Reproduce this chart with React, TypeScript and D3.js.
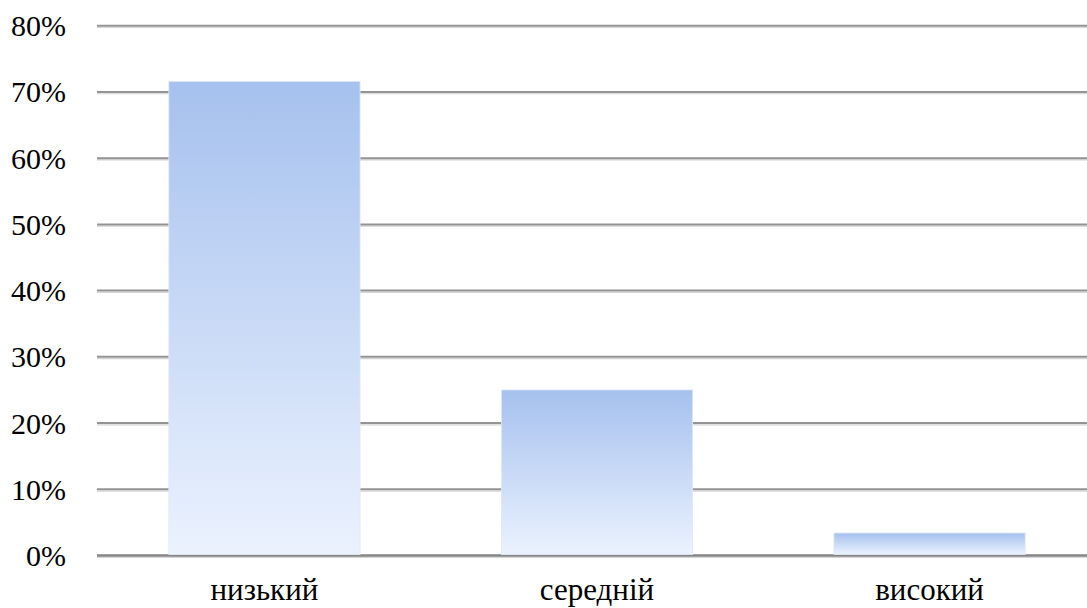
import React, { useEffect, useRef } from "react";
import * as d3 from "d3";

const categories = ["низький", "середній", "високий"];
const values = [0.716, 0.25, 0.034];
const yTicks = [0, 0.1, 0.2, 0.3, 0.4, 0.5, 0.6, 0.7, 0.8];

const width = 1087;
const height = 608;

export default function App() {
  const ref = useRef<SVGSVGElement | null>(null);

  useEffect(() => {
    const svg = d3.select(ref.current);
    svg.selectAll("*").remove();

    const x = d3
      .scaleBand()
      .domain(categories)
      .range([99, 1095])
      .paddingInner(0.425)
      .paddingOuter(0.21);

    const y = d3.scaleLinear().domain([0, 0.8]).range([555.5, 25.7]);

    const defs = svg.append("defs");
    const grad = defs
      .append("linearGradient")
      .attr("id", "barGrad")
      .attr("x1", 0)
      .attr("y1", 0)
      .attr("x2", 0)
      .attr("y2", 1);
    grad.append("stop").attr("offset", "0%").attr("stop-color", "#a6c1ee");
    grad.append("stop").attr("offset", "100%").attr("stop-color", "#ebf2fe");

    // gridlines (with a faint shadow underneath)
    const grid = svg.append("g");
    grid
      .selectAll("line.shadow")
      .data(yTicks)
      .enter()
      .append("line")
      .attr("class", "shadow")
      .attr("x1", 97)
      .attr("x2", width)
      .attr("y1", (d) => y(d) + 1.8)
      .attr("y2", (d) => y(d) + 1.8)
      .attr("stroke", "#d4d4d4")
      .attr("stroke-width", 1.2);
    grid
      .selectAll("line.main")
      .data(yTicks)
      .enter()
      .append("line")
      .attr("class", "main")
      .attr("x1", 97)
      .attr("x2", width)
      .attr("y1", (d) => y(d))
      .attr("y2", (d) => y(d))
      .attr("stroke", (d) => (d === 0 ? "#858585" : "#939393"))
      .attr("stroke-width", (d) => (d === 0 ? 2.6 : 2));

    // bars
    svg
      .append("g")
      .selectAll("rect")
      .data(values)
      .enter()
      .append("rect")
      .attr("x", (_, i) => x(categories[i]) as number)
      .attr("width", x.bandwidth())
      .attr("y", (d) => y(d))
      .attr("height", (d) => y(0) - 1 - y(d))
      .attr("fill", "url(#barGrad)")
      .attr("stroke", "#dfe8f8")
      .attr("stroke-width", 0.8);

    const font = "'Liberation Serif', 'Times New Roman', serif";

    // y tick labels
    svg
      .append("g")
      .selectAll("text")
      .data(yTicks)
      .enter()
      .append("text")
      .attr("x", 66)
      .attr("y", (d) => y(d))
      .attr("dy", "0.35em")
      .attr("text-anchor", "end")
      .style("font-family", font)
      .style("font-size", "30px")
      .attr("fill", "#000")
      .text((d) => d3.format(".0%")(d));

    // category labels
    svg
      .append("g")
      .selectAll("text")
      .data(categories)
      .enter()
      .append("text")
      .attr("x", (d) => (x(d) as number) + x.bandwidth() / 2)
      .attr("y", 600)
      .attr("text-anchor", "middle")
      .style("font-family", font)
      .style("font-size", "31px")
      .attr("fill", "#000")
      .text((d) => d);
  }, []);

  return (
    <svg
      ref={ref}
      width={width}
      height={height}
      style={{ position: "absolute", left: 0, top: 0, display: "block", background: "#fff" }}
    />
  );
}
